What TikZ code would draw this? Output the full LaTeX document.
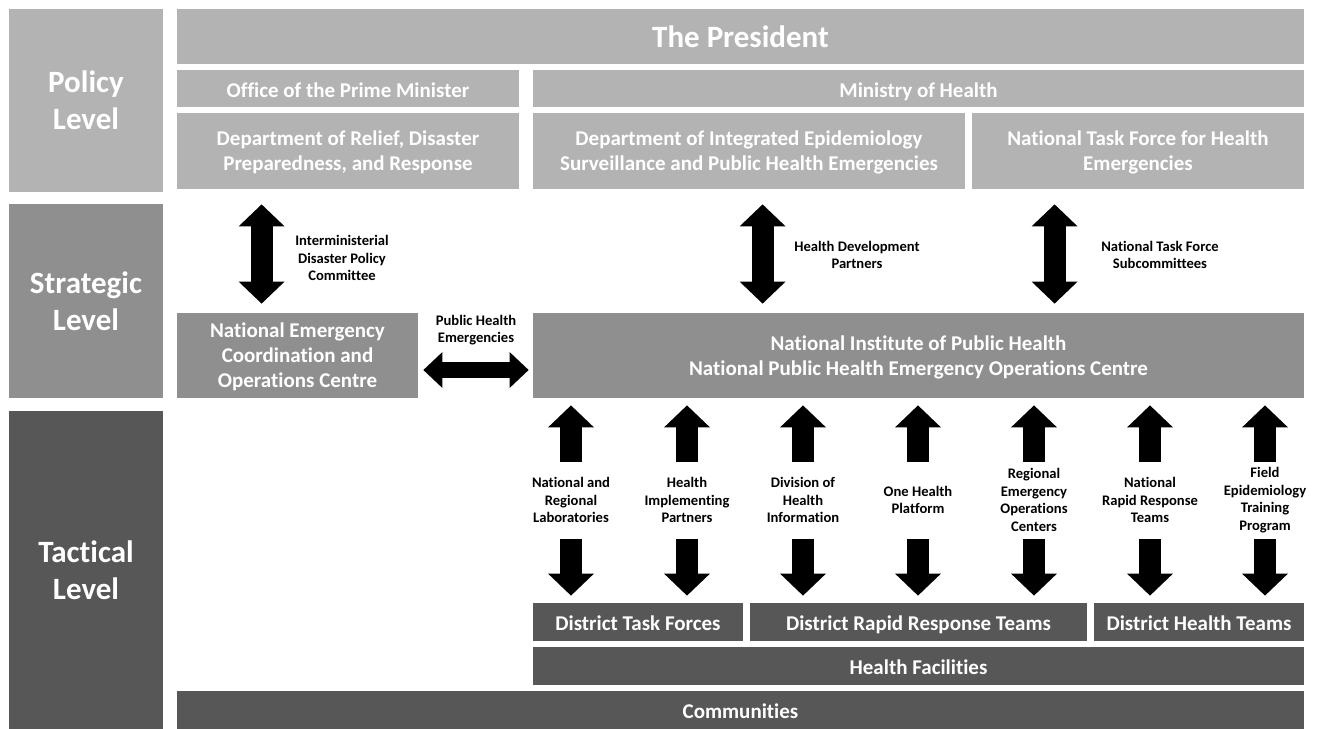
\documentclass[tikz,border=0pt]{standalone}
\usepackage{fontspec}
\setmainfont{Carlito}[Ligatures=NoCommon]
\usetikzlibrary{arrows.meta}
\definecolor{policygray}{HTML}{B3B3B3}
\definecolor{strategicgray}{HTML}{8F8F8F}
\definecolor{tacticalgray}{HTML}{575757}
\begin{document}
\begin{tikzpicture}
    [x=0.5pt,y=-0.5pt,
     every node/.style={inner sep=0pt,align=center,text=white},
     levelbox/.style={font=\fontsize{15.5}{18.5}\selectfont\bfseries},
     orgbox/.style={font=\fontsize{10.5}{12.5}\selectfont\bfseries},
     oneline/.style={text height=9.2pt,text depth=0.3pt},
     multiline/.style={text depth=-2pt},
     note/.style={text=black,font=\fontsize{7.3}{8.75}\selectfont\bfseries},
     policyfill/.style={fill=policygray},
     strategicfill/.style={fill=strategicgray},
     tacticalfill/.style={fill=tacticalgray},
     bigarrow/.style={line width=11pt,{Triangle[length=11pt,width=23pt,line width=0pt]}-{Triangle[length=11pt,width=23pt,line width=0pt]}},
     sidearrow/.style={line width=8pt,{Triangle[length=9.5pt,width=18pt,line width=0pt]}-{Triangle[length=9.5pt,width=18pt,line width=0pt]}},
     onearrow/.style={line width=11pt,-{Triangle[length=11pt,width=23pt,line width=0pt]}}]
    \useasboundingbox (0,0) rectangle (1324,729);

    \node[levelbox,policyfill,minimum width=77pt,minimum height=91.5pt] (policylvl) at (86,100.5) {Policy\\Level};
    \node[levelbox,strategicfill,minimum width=77pt,minimum height=97pt] (strategiclvl) at (86,301) {Strategic\\Level};
    \node[levelbox,tacticalfill,minimum width=77pt,minimum height=159pt] (tacticallvl) at (86,570) {Tactical\\Level};

    \node[levelbox,policyfill,minimum width=563.5pt,minimum height=27.5pt] (president) at (740.5,36.5) {The President};
    \node[orgbox,oneline,policyfill,minimum width=171pt,minimum height=18.5pt] (pm) at (348,88.5) {Office of the Prime Minister};
    \node[orgbox,oneline,policyfill,minimum width=385.5pt,minimum height=18.5pt] (moh) at (918.5,88.5) {Ministry of Health};
    \node[orgbox,multiline,policyfill,minimum width=171pt,minimum height=38pt] (relief) at (348,151) {Department of Relief, Disaster\\Preparedness, and Response};
    \node[orgbox,multiline,policyfill,minimum width=216pt,minimum height=38pt] (dieps) at (749,151) {Department of Integrated Epidemiology\\Surveillance and Public Health Emergencies};
    \node[orgbox,multiline,policyfill,minimum width=166pt,minimum height=38pt] (ntf) at (1138,151) {National Task Force for Health\\Emergencies};

    \node[orgbox,multiline,strategicfill,minimum width=120.5pt,minimum height=42.5pt] (neoc) at (297.5,355.5) {National Emergency\\Coordination and\\Operations Centre};
    \node[orgbox,multiline,strategicfill,minimum width=385.5pt,minimum height=42.5pt] (niph) at (918.5,355.5) {National Institute of Public Health\\National Public Health Emergency Operations Centre};

    \node[orgbox,oneline,tacticalfill,minimum width=105pt,minimum height=19pt] (dtf) at (638,622) {District Task Forces};
    \node[orgbox,oneline,tacticalfill,minimum width=168.5pt,minimum height=19pt] (drrt) at (918.5,622) {District Rapid Response Teams};
    \node[orgbox,oneline,tacticalfill,minimum width=105pt,minimum height=19pt] (dht) at (1199,622) {District Health Teams};
    \node[orgbox,oneline,tacticalfill,minimum width=385.5pt,minimum height=19pt] (hf) at (918.5,666) {Health Facilities};
    \node[orgbox,oneline,tacticalfill,minimum width=563.5pt,minimum height=19pt] (comm) at (740.5,710) {Communities};

    \node[note] (idpc) at (342,258) {Interministerial\\Disaster Policy\\Committee};
    \node[note] (phe) at (476,330) {Public Health\\Emergencies};
    \node[note] (hdp) at (857,255) {Health Development\\Partners};
    \node[note] (ntfs) at (1160,255) {National Task Force\\Subcommittees};

    \coordinate (idpcA) at ([xshift=42.5pt]relief.south west);
    \coordinate (hdpA) at ([xshift=115pt]dieps.south west);
    \coordinate (ntfA) at ([xshift=41.5pt]ntf.south west);
    \draw[bigarrow,shorten <=7.5pt,shorten >=4.5pt] (idpcA) -- (idpcA |- neoc.north);
    \draw[bigarrow,shorten <=7.5pt,shorten >=4.5pt] (hdpA) -- (hdpA |- niph.north);
    \draw[bigarrow,shorten <=7.5pt,shorten >=4.5pt] (ntfA) -- (ntfA |- niph.north);

    \coordinate (pheA) at ([yshift=-7.25pt]neoc.east);
    \draw[sidearrow,shorten <=2.5pt,shorten >=2pt] (pheA) -- (pheA -| niph.west);

    \coordinate (tacup) at (0,462);
    \coordinate (tacdown) at (0,539);
    \foreach \x/\name/\txt in {571/labs/{National and\\Regional\\Laboratories},
        687/hip/{Health\\Implementing\\Partners},
        803/dhi/{Division of\\Health\\Information},
        918/ohp/{One Health\\Platform},
        1034/reoc/{Regional\\Emergency\\Operations\\Centers},
        1150/nrrt/{National\\Rapid Response\\Teams},
        1265/fetp/{Field\\Epidemiology\\Training\\Program}}
    {
        \node[note] (\name) at (\x,500) {\txt};
        \draw[onearrow,shorten >=3.5pt] (\name |- tacup) -- (\name |- niph.south);
        \draw[onearrow,shorten >=3.5pt] (\name |- tacdown) -- (\name |- dtf.north);
    }
\end{tikzpicture}
\end{document}
